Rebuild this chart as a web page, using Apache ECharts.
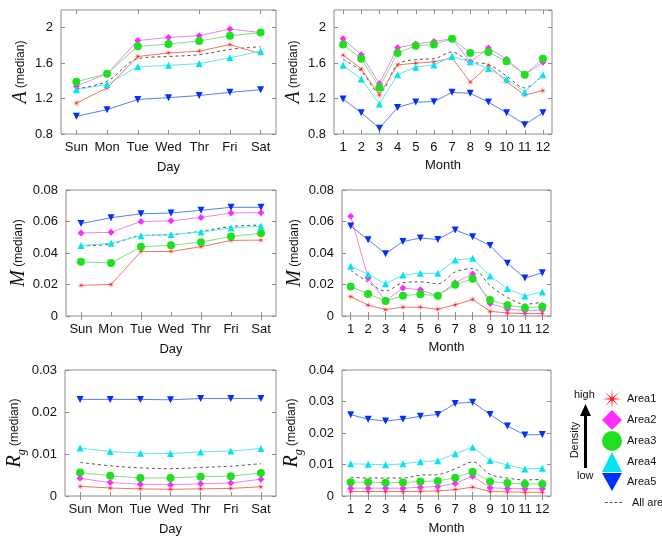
<!DOCTYPE html>
<html>
<head>
<meta charset="utf-8">
<script src="https://cdn.jsdelivr.net/npm/echarts@6/dist/echarts.min.js"></script>
<style>
html,body{margin:0;padding:0;background:#fff;}
#c{width:662px;height:539px;}
</style>
</head>
<body>
<div id="c"></div>
<script>
// ---------------- data ----------------
const days = ['Sun','Mon','Tue','Wed','Thr','Fri','Sat'];
const months = ['1','2','3','4','5','6','7','8','9','10','11','12'];
const seriesNames = ['Area1','Area2','Area3','Area4','Area5','All areas'];

// rows: Area1, Area2, Area3, Area4, Area5, All areas
const aByDay = [
  [1.15,1.32,1.675,1.715,1.735,1.81,1.705],
  [1.34,1.48,1.855,1.89,1.91,1.985,1.945],
  [1.39,1.48,1.79,1.815,1.85,1.91,1.945],
  [1.30,1.36,1.56,1.575,1.595,1.66,1.735],
  [1.00,1.075,1.19,1.21,1.235,1.27,1.30],
  [1.31,1.395,1.65,1.675,1.695,1.755,1.785]
];
const aByMonth = [
  [1.69,1.535,1.24,1.58,1.60,1.615,1.66,1.385,1.575,1.39,1.24,1.29],
  [1.875,1.695,1.37,1.775,1.815,1.845,1.875,1.615,1.77,1.645,1.47,1.61],
  [1.81,1.65,1.325,1.715,1.795,1.81,1.875,1.715,1.725,1.62,1.47,1.65],
  [1.575,1.42,1.14,1.47,1.555,1.58,1.675,1.615,1.54,1.42,1.275,1.47],
  [1.195,1.04,0.865,1.10,1.16,1.165,1.27,1.26,1.16,1.04,0.905,1.04],
  [1.64,1.51,1.265,1.585,1.64,1.65,1.725,1.615,1.585,1.455,1.32,1.47]
];
const mByDay = [
  [0.0195,0.0200,0.041,0.041,0.044,0.048,0.0482],
  [0.0527,0.0531,0.0600,0.0604,0.0626,0.0654,0.0656],
  [0.0344,0.0336,0.0439,0.0449,0.0469,0.0505,0.0525],
  [0.0447,0.0462,0.0510,0.0518,0.0533,0.0559,0.0570],
  [0.0587,0.0624,0.0649,0.0654,0.0671,0.0690,0.0690],
  [0.0445,0.0458,0.0510,0.0516,0.0538,0.0568,0.0578]
];
const mByMonth = [
  [0.0123,0.0069,0.0041,0.0056,0.0056,0.0043,0.0071,0.0105,0.0030,0.0019,0.0015,0.0015],
  [0.0634,0.0241,0.0095,0.0178,0.0166,0.0129,0.0211,0.0267,0.0080,0.0045,0.0034,0.0039],
  [0.0187,0.0140,0.0095,0.0129,0.0138,0.0129,0.0198,0.0237,0.0101,0.0069,0.0052,0.0058],
  [0.0316,0.0265,0.0204,0.0260,0.0271,0.0271,0.0355,0.0366,0.0254,0.0174,0.0127,0.0153],
  [0.0572,0.0484,0.0396,0.0473,0.0495,0.0486,0.0546,0.0503,0.0447,0.0335,0.0241,0.0275],
  [0.0290,0.0215,0.0159,0.0211,0.0217,0.0204,0.0280,0.0301,0.0194,0.0118,0.0075,0.0088]
];
const rgByDay = [
  [0.0023,0.0019,0.0017,0.0016,0.0017,0.0018,0.0022],
  [0.0042,0.0032,0.0028,0.0027,0.0029,0.0031,0.0040],
  [0.0056,0.0048,0.0043,0.0043,0.0046,0.0047,0.0055],
  [0.0114,0.0106,0.0102,0.0101,0.0105,0.0107,0.0113],
  [0.0230,0.0230,0.0230,0.0229,0.0232,0.0232,0.0232],
  [0.0080,0.0072,0.0067,0.0065,0.0068,0.0071,0.0077]
];
const rgByMonth = [
  [0.0014,0.0014,0.0014,0.0014,0.0015,0.0016,0.0020,0.0028,0.0015,0.0013,0.0012,0.0012],
  [0.0025,0.0025,0.0025,0.0025,0.0028,0.0030,0.0040,0.0063,0.0026,0.0024,0.0023,0.0023],
  [0.0044,0.0044,0.0042,0.0043,0.0046,0.0048,0.0058,0.0077,0.0046,0.0041,0.0038,0.0038],
  [0.0102,0.0101,0.0099,0.0102,0.0109,0.0112,0.0134,0.0155,0.0113,0.0098,0.0086,0.0088],
  [0.0258,0.0244,0.0238,0.0244,0.0253,0.0259,0.0294,0.0298,0.0259,0.0222,0.0194,0.0195],
  [0.0060,0.0057,0.0057,0.0057,0.0066,0.0068,0.0086,0.0108,0.0069,0.0057,0.0051,0.0053]
];

// ---------------- styling ----------------
function asteriskPath(){
  const pts = [];
  for (let k = 0; k < 16; k++) {
    const ang = Math.PI * k / 8 - Math.PI / 2;
    const r = (k % 2 === 0) ? 10 : 1.7;
    pts.push((r * Math.cos(ang)).toFixed(3) + ',' + (r * Math.sin(ang)).toFixed(3));
  }
  return 'path://M' + pts.join(' L') + ' Z';
}
const AST = asteriskPath();
const INV_TRI = 'path://M0,0 L10,0 L5,9 Z';
const DASH = 'path://M0,0 h2.5 v1 h-2.5 Z M4.5,0 h2.5 v1 h-2.5 Z M9,0 h2.5 v1 h-2.5 Z M13.5,0 h2.5 v1 h-2.5 Z';

const markerColors = ['#ff1a1a','#ff2bff','#1ee01e','#00e5f0','#0030ff','#555555'];
const lineColors   = ['#f27560','#ee84ee','#7fe07f','#5fe6e6','#5a7ef0','#555555'];
const symbols      = [AST,'diamond','circle','triangle','triangle','none'];
const symbolSizes  = [8,7,8,7,7,0];
const symbolRot    = [0,0,0,0,180,0];

const FONT = 'Liberation Sans';
const TXT = '#111';
const FRAME = '#8c8c8c';

function yName(sym, sub){
  return sub ? '{i|' + sym + '}{s|' + sub + '} {n|(median)}' : '{i|' + sym + '} {n|(median)}';
}
const yNameRich = {
  i: {fontFamily:'Liberation Serif', fontStyle:'italic', fontSize:20, lineHeight:26, color:TXT},
  s: {fontFamily:'Liberation Serif', fontStyle:'italic', fontSize:12, lineHeight:12, verticalAlign:'bottom', color:TXT},
  n: {fontFamily:FONT, fontSize:12, lineHeight:26, color:TXT}
};

const panels = [
  {cats:days,   data:aByDay,    grid:{left:61, top:10, width:215, height:124}, y:{min:0.8,max:2.2,interval:0.4}, hideMax:true,
   yname:yName('A'), yGap:19, xname:'Day', xGap:27},
  {cats:months, data:aByMonth,  grid:{left:334, top:10, width:218, height:124}, y:{min:0.8,max:2.2,interval:0.4}, hideMax:true,
   yname:yName('A'), yGap:26, xname:'Month', xGap:25},
  {cats:days,   data:mByDay,    grid:{left:66, top:190, width:210, height:126}, y:{min:0,max:0.08,interval:0.02},
   yname:yName('M'), yGap:29, xname:'Day', xGap:27},
  {cats:months, data:mByMonth,  grid:{left:342, top:190, width:209, height:126}, y:{min:0,max:0.08,interval:0.02},
   yname:yName('M'), yGap:34, xname:'Month', xGap:25},
  {cats:days,   data:rgByDay,   grid:{left:65, top:370, width:211, height:126}, y:{min:0,max:0.03,interval:0.01},
   yname:yName('R','g'), yGap:32, xname:'Day', xGap:27},
  {cats:months, data:rgByMonth, grid:{left:342, top:370, width:209, height:126}, y:{min:0,max:0.04,interval:0.01},
   yname:yName('R','g'), yGap:35, xname:'Month', xGap:26}
];

const grid = [], xAxis = [], yAxis = [], series = [];
const tickStyle = {lineStyle:{color:FRAME, width:1}};
panels.forEach((p, gi) => {
  grid.push(Object.assign({show:true, borderColor:FRAME, borderWidth:1, containLabel:false}, p.grid));
  xAxis.push({
    type:'category', gridIndex:gi, data:p.cats, boundaryGap:true,
    axisLine:{show:false},
    axisTick:Object.assign({show:true, inside:true, alignWithLabel:true, length:4}, tickStyle),
    axisLabel:{show:true, interval:0, margin:7, fontFamily:FONT, fontSize:13, color:TXT},
    splitLine:{show:false},
    name:p.xname, nameLocation:'middle', nameGap:p.xGap,
    nameTextStyle:{fontFamily:FONT, fontSize:13, color:TXT}
  });
  xAxis.push({
    type:'category', gridIndex:gi, data:p.cats, boundaryGap:true, position:'top',
    axisLine:{show:false},
    axisTick:Object.assign({show:true, inside:true, alignWithLabel:true, length:4}, tickStyle),
    axisLabel:{show:false}, splitLine:{show:false}
  });
  yAxis.push({
    type:'value', gridIndex:gi, min:p.y.min, max:p.y.max, interval:p.y.interval,
    axisLine:{show:false},
    axisTick:Object.assign({show:true, inside:true, length:4}, tickStyle),
    axisLabel:{show:true, margin:8, fontFamily:FONT, fontSize:13, color:TXT, showMaxLabel: !p.hideMax},
    splitLine:{show:false},
    name:p.yname, nameLocation:'middle', nameRotate:90, nameGap:p.yGap,
    nameTextStyle:{rich:yNameRich}
  });
  yAxis.push({
    type:'value', gridIndex:gi, min:p.y.min, max:p.y.max, interval:p.y.interval, position:'right',
    axisLine:{show:false},
    axisTick:Object.assign({show:true, inside:true, length:4}, tickStyle),
    axisLabel:{show:false}, splitLine:{show:false}
  });
  p.data.forEach((vals, si) => {
    const isAll = si === 5;
    series.push({
      type:'line', name:seriesNames[si],
      xAxisIndex:gi*2, yAxisIndex:gi*2,
      data:vals,
      symbol:symbols[si], symbolSize:symbolSizes[si], symbolRotate:symbolRot[si],
      showSymbol:!isAll, smooth:isAll ? 0.35 : false,
      z: isAll ? 2 : 3 + si,
      lineStyle:{color:lineColors[si], width:1, type:isAll ? [3,3] : 'solid'},
      itemStyle:{color:markerColors[si], borderWidth:0},
      emphasis:{disabled:true},
      animation:false
    });
  });
});

const option = {
  animation:false,
  grid, xAxis, yAxis, series,
  legend:[
    {
      data:[
        {name:'Area1', icon:AST},
        {name:'Area2', icon:'diamond'},
        {name:'Area3', icon:'circle'},
        {name:'Area4', icon:'triangle'},
        {name:'Area5', icon:INV_TRI}
      ],
      orient:'vertical', left:597, top:384, itemWidth:20, itemHeight:20, itemGap:1,
      selectedMode:false,
      itemStyle:{borderWidth:0},
      textStyle:{fontFamily:FONT, fontSize:11, color:TXT}
    },
    {
      data:[{name:'All areas', icon:DASH}],
      orient:'vertical', left:600, top:492, itemWidth:17, itemHeight:12, itemGap:1,
      selectedMode:false,
      itemStyle:{borderWidth:0, color:'#444'},
      textStyle:{fontFamily:FONT, fontSize:11, color:TXT, padding:[0,0,0,5]}
    }
  ],
  graphic:[
    {type:'text', left:574, top:389, style:{text:'high', fontFamily:FONT, fontSize:11, fill:TXT}},
    {type:'text', left:577, top:470, style:{text:'low', fontFamily:FONT, fontSize:11, fill:TXT}},
    {type:'text', x:575, y:440, rotation:Math.PI/2,
     style:{text:'Density', fontFamily:FONT, fontSize:11, fill:TXT, align:'center', verticalAlign:'middle'}},
    {type:'line', shape:{x1:585.5, y1:468, x2:585.5, y2:414}, style:{stroke:'#000', lineWidth:3}},
    {type:'polygon', shape:{points:[[585.5,404],[580,416],[591,416]]}, style:{fill:'#000'}}
  ]
};

const chart = echarts.init(document.getElementById('c'), null, {renderer:'canvas'});
chart.setOption(option);
</script>
</body>
</html>
